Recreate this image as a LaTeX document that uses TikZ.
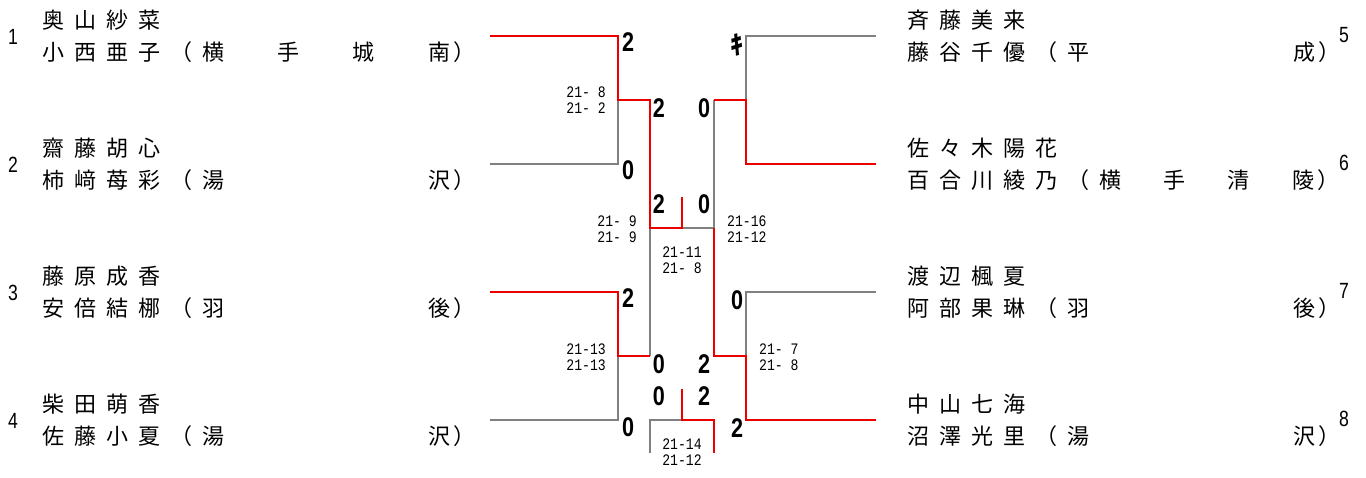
\documentclass[tikz,border=0pt]{standalone}
\usepackage{fontspec}
\usepackage{graphicx}
\newfontfamily\cjk{Noto Sans CJK JP}
\newfontfamily\lsans{Liberation Sans}
\newfontfamily\lmono{Liberation Mono}
\definecolor{wred}{RGB}{235,0,0}
\definecolor{lgray}{RGB}{128,128,128}
\ExplSyntaxOn
\NewDocumentCommand\spaced{m}{\tl_map_inline:nn{#1}{##1\hspace{10pt}}}
\ExplSyntaxOff
\newcommand\spread[1]{\makebox[248pt]{#1}}
\newcommand\spreadR[1]{\makebox[215pt]{#1}}
\newcommand\cp{\hspace{3pt}\makebox[9pt][l]{）}}
\tikzset{
  nm/.style={anchor=west,inner sep=0pt,font=\cjk\fontsize{22}{22}\selectfont,text height=18.3pt,text depth=1.5pt},
  seed/.style={inner sep=0pt,font=\lsans\fontsize{22}{22}\selectfont,text height=15.7pt,text depth=0pt},
  sco/.style={inner sep=0pt,font=\lsans\bfseries\fontsize{27}{27}\selectfont,text height=19.3pt,text depth=0pt},
  sm/.style={inner sep=0pt,font=\lmono\fontsize{16}{16}\selectfont,text height=10.4pt,text depth=0pt},
  wl/.style={draw=wred,line width=1.6pt},
  ll/.style={draw=lgray,line width=1.1pt},
}
\newcommand\sq[1]{\scalebox{0.8}[1]{#1}}
\newcommand\sn[1]{\scalebox{0.82}[1]{#1}}
\newcommand\entry[5]{%
  \node[nm] (#1a) at (#2,#3-16) {\spaced{#4}};
  \node[nm] (#1b) at (#2,#3+16) {#5};
}
\begin{document}
\begin{tikzpicture}[x=1pt,y=-1pt]
\useasboundingbox (0,0) rectangle (1366,477);
% ---- entries left
\entry{e1}{42}{36}{奥山紗菜}{\spaced{小西亜子（}\spread{横\hfill 手\hfill 城\hfill 南}\cp}
\entry{e2}{42}{164}{齋藤胡心}{\spaced{柿﨑苺彩（}\spread{湯\hfill 沢}\cp}
\entry{e3}{42}{292}{藤原成香}{\spaced{安倍結梛（}\spread{羽\hfill 後}\cp}
\entry{e4}{42}{420}{柴田萌香}{\spaced{佐藤小夏（}\spread{湯\hfill 沢}\cp}
% ---- entries right
\entry{e5}{907}{36}{斉藤美来}{\spaced{藤谷千優（}\spread{平\hfill 成}\cp}
\entry{e6}{907}{164}{佐々木陽花}{\spaced{百合川綾乃（}\spreadR{横\hfill 手\hfill 清\hfill 陵}\cp}
\entry{e7}{907}{292}{渡辺楓夏}{\spaced{阿部果琳（}\spread{羽\hfill 後}\cp}
\entry{e8}{907}{420}{中山七海}{\spaced{沼澤光里（}\spread{湯\hfill 沢}\cp}
% ---- seeds
\node[seed] (n1) at (13,37) {\sq{1}};
\node[seed] (n2) at (13,165) {\sq{2}};
\node[seed] (n3) at (13,293) {\sq{3}};
\node[seed] (n4) at (13,421) {\sq{4}};
\node[seed] (n5) at (1344,35) {\sq{5}};
\node[seed] (n6) at (1344,163) {\sq{6}};
\node[seed] (n7) at (1344,291) {\sq{7}};
\node[seed] (n8) at (1344,419) {\sq{8}};
% ---- coordinates
\coordinate (p1) at (490,36);  \coordinate (a1) at (618,36);
\coordinate (p2) at (490,164); \coordinate (a2) at (618,164);
\coordinate (m12) at (618,100); \coordinate (b12) at (650,100);
\coordinate (p3) at (490,292); \coordinate (a3) at (618,292);
\coordinate (p4) at (490,420); \coordinate (a4) at (618,420);
\coordinate (m34) at (618,356); \coordinate (b34) at (650,356);
\coordinate (c12) at (650,228); \coordinate (s1) at (682,228);
\coordinate (s1t) at (682,197); \coordinate (s2) at (714,228);
\coordinate (p5) at (876,36);  \coordinate (a5) at (746,36);
\coordinate (p6) at (876,164); \coordinate (a6) at (746,164);
\coordinate (m56) at (746,100); \coordinate (b56) at (714,100);
\coordinate (p7) at (876,292); \coordinate (a7) at (746,292);
\coordinate (p8) at (876,420); \coordinate (a8) at (746,420);
\coordinate (m78) at (746,356); \coordinate (b78) at (714,356);
\coordinate (f1) at (650,453); \coordinate (f2) at (650,420);
\coordinate (f3) at (682,420); \coordinate (f3t) at (682,389);
\coordinate (f4) at (714,420); \coordinate (f5) at (714,453);
% ---- gray lines
\draw[ll] (p2) -- (a2) -- (m12);
\draw[ll] (p4) -- (a4) -- (m34);
\draw[ll] (b34) -- (c12);
\draw[ll] (s1) -- (s2);
\draw[ll] (p5) -- (a5) -- (m56);
\draw[ll] (b56) -- (s2);
\draw[ll] (p7) -- (a7) -- (m78);
\draw[ll] (f1) -- (f2) -- (f3);
% ---- red lines
\draw[wl] (p1) -- (a1) -- (m12) -- (b12) -- (c12) -- (s1) -- (s1t);
\draw[wl] (p3) -- (a3) -- (m34) -- (b34);
\draw[wl] (p6) -- (a6) -- (m56) -- (b56);
\draw[wl] (p8) -- (a8) -- (m78) -- (b78) -- (s2);
\draw[wl] (f3t) -- (f3) -- (f4) -- (f5);
% ---- game scores
\node[sco] (g1) at (628,42) {\sq{2}};
\node[sco] (g2) at (628,170) {\sq{0}};
\node[sco] (g3) at (628,298) {\sq{2}};
\node[sco] (g4) at (628,427) {\sq{0}};
\node[sco] (g12) at (659,108) {\sq{2}};
\node[sco] (g34) at (659,364) {\sq{0}};
\node[inner sep=0pt,font=\cjk\bfseries\fontsize{26}{26}\selectfont] (g5) at (737,45) {ｷ};
\node[sco] (g7) at (737,300) {\sq{0}};
\node[sco] (g8) at (737,428) {\sq{2}};
\node[sco] (g56) at (704,108) {\sq{0}};
\node[sco] (g78) at (704,364) {\sq{2}};
\node[sco] (gs1) at (659,204) {\sq{2}};
\node[sco] (gs2) at (704,204) {\sq{0}};
\node[sco] (gf1) at (659,396) {\sq{0}};
\node[sco] (gf2) at (704,396) {\sq{2}};
% ---- set scores
\node[sm,anchor=east] (r1a) at (606,92) {\sn{21-~8}};
\node[sm,anchor=east] (r1b) at (606,108) {\sn{21-~2}};
\node[sm,anchor=east] (r2a) at (637,221) {\sn{21-~9}};
\node[sm,anchor=east] (r2b) at (637,237) {\sn{21-~9}};
\node[sm,anchor=west] (r3a) at (727,221) {\sn{21-16}};
\node[sm,anchor=west] (r3b) at (727,237) {\sn{21-12}};
\node[sm] (r4a) at (682,252) {\sn{21-11}};
\node[sm] (r4b) at (682,268) {\sn{21-~8}};
\node[sm,anchor=east] (r5a) at (606,349) {\sn{21-13}};
\node[sm,anchor=east] (r5b) at (606,365) {\sn{21-13}};
\node[sm,anchor=west] (r6a) at (759,349) {\sn{21-~7}};
\node[sm,anchor=west] (r6b) at (759,365) {\sn{21-~8}};
\node[sm] (r7a) at (682,444) {\sn{21-14}};
\node[sm] (r7b) at (682,460) {\sn{21-12}};
\end{tikzpicture}
\end{document}
